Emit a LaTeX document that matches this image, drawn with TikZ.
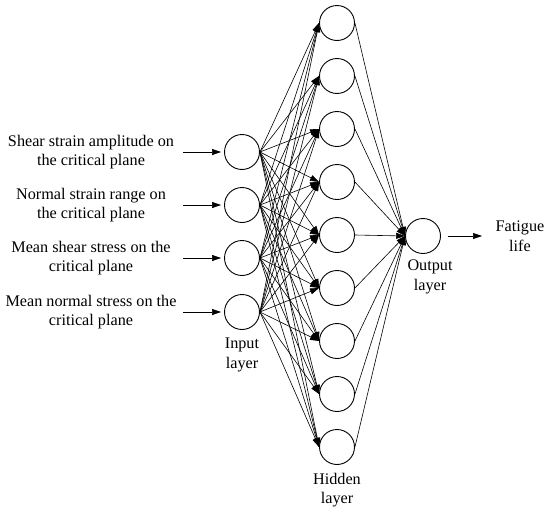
\documentclass[tikz,border=0pt]{standalone}
\usepackage{fontspec}
\setmainfont{Liberation Serif}
\usepackage{tikz}
\usetikzlibrary{arrows.meta}

\tikzset{
    neuron/.style={draw, circle, line width=0.9pt, minimum size=35pt, inner sep=0pt},
    link/.style={line width=0.6pt, -{Triangle[length=9pt, width=6pt]}},
    lbl/.style={align=center, font=\fontsize{16.2}{19.5}\selectfont}
}

\begin{document}
\begin{tikzpicture}[x=1pt, y=1pt]
    \useasboundingbox (0, 0) rectangle (550, -517);

    % input layer
    \node[neuron] (i1) at (242, -152) {};
    \node[neuron] (i2) at (242, -205) {};
    \node[neuron] (i3) at (242, -258) {};
    \node[neuron] (i4) at (242, -312) {};

    % hidden layer
    \foreach \k in {1, ..., 9} {
        \node[neuron] (h\k) at (337, {-23 - 53*(\k - 1)}) {};
    }

    % output layer
    \node[neuron] (o) at (423, -236) {};

    % inputs
    \node[lbl] (t1) at (91, -152) {Shear strain amplitude on\\the critical plane};
    \node[lbl] (t2) at (91, -205) {Normal strain range on\\the critical plane};
    \node[lbl] (t3) at (91, -258) {Mean shear stress on the\\critical plane};
    \node[lbl] (t4) at (91, -312) {Mean normal stress on the\\critical plane};
    \foreach \k/\y in {1/-152, 2/-205, 3/-258, 4/-312} {
        \coordinate (a\k) at (183, \y);
        \draw[link, shorten >=3pt] (a\k) -- (i\k);
    }

    % connections
    \foreach \i in {1, ..., 4} {
        \foreach \k in {1, ..., 9} {
            \draw[link] (i\i.east) -- (h\k.west);
        }
    }
    \foreach \k in {1, ..., 9} {
        \draw[link] (h\k.east) -- (o.west);
    }

    % output
    \node[lbl] (f) at (520, -236) {Fatigue\\life};
    \draw[link] (o.east) ++(7, 0) coordinate (b) -- (482, -236) coordinate (c);

    % layer names
    \node[lbl] (li) at (242, -355) {Input\\layer};
    \node[lbl] (lh) at (337, -490) {Hidden\\layer};
    \node[lbl] (lo) at (430, -277) {Output\\layer};
\end{tikzpicture}
\end{document}
